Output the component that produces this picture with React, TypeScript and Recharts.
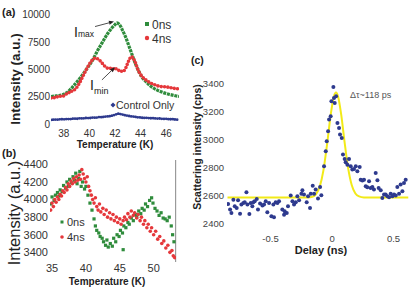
import React from 'react';
import {
  ComposedChart,
  ScatterChart,
  Scatter,
  Line,
  XAxis,
  YAxis,
  ReferenceLine,
} from 'recharts';

const FONT = '"Liberation Sans", Arial, sans-serif';
const GREEN = '#2f8c3c';
const RED = '#e5383b';
const NAVY = '#2e3a8e';
const YELLOW = '#f2ea18';

// (a) temperature scan, 0 ns delay
const aTemp0 = [37.0, 37.3, 37.6, 37.9, 38.2, 38.5, 38.8, 39.1, 39.4, 39.7, 40.0, 40.3, 40.6, 40.9, 41.2, 41.5, 41.8, 42.0, 42.15, 42.35, 42.6, 42.85, 43.1, 43.35, 43.6, 43.85, 44.1, 44.4, 44.7, 45.0, 45.3, 45.6, 45.9, 46.2, 46.5, 46.8, 47.0];
const aInt0 = [2520, 2560, 2600, 2680, 2850, 3150, 3550, 3950, 4400, 4900, 5400, 5950, 6650, 7250, 7850, 8400, 8850, 9100, 9250, 9100, 8550, 7900, 7100, 6300, 5500, 4850, 4300, 3900, 3550, 3300, 3100, 2950, 2830, 2730, 2650, 2570, 2520];

// (a) 4 ns delay
const aTemp4 = [37.0, 37.15, 37.3, 37.45, 37.6, 37.75, 37.9, 38.05, 38.2, 38.35, 38.5, 38.65, 38.8, 38.95, 39.1, 39.25, 39.4, 39.55, 39.7, 39.85, 40.0, 40.15, 40.3, 40.45, 40.6, 40.75, 40.9, 41.05, 41.2, 41.35, 41.5, 41.65, 41.8, 41.95, 42.1, 42.25, 42.4, 42.55, 42.7, 42.85, 43.0, 43.15, 43.3, 43.45, 43.6, 43.75, 43.9, 44.05, 44.2, 44.35, 44.5, 44.65, 44.8, 44.95, 45.1, 45.25, 45.4, 45.55, 45.7, 45.85, 46.0, 46.15, 46.3, 46.45, 46.6, 46.75, 46.9, 47.0];
const aInt4 = [2380, 2450, 2400, 2500, 2460, 2560, 2520, 2620, 2750, 2900, 2850, 3050, 3100, 3250, 3500, 3800, 4150, 4500, 4850, 5200, 5500, 5750, 5950, 6050, 6000, 5900, 5700, 5500, 5300, 5150, 5050, 5100, 5000, 5150, 5050, 4900, 4950, 4780, 4850, 5150, 5600, 6000, 6200, 6000, 5600, 5100, 4700, 4450, 4250, 4100, 3950, 3850, 3750, 3650, 3600, 3520, 3480, 3450, 3400, 3420, 3350, 3380, 3300, 3340, 3260, 3300, 3220, 3200];

// (a) control only
const aTempCtl = [37.0, 37.25, 37.5, 37.75, 38.0, 38.25, 38.5, 38.75, 39.0, 39.25, 39.5, 39.75, 40.0, 40.25, 40.5, 40.75, 41.0, 41.25, 41.5, 41.75, 42.0, 42.25, 42.5, 42.75, 43.0, 43.25, 43.5, 43.75, 44.0, 44.25, 44.5, 44.75, 45.0, 45.25, 45.5, 45.75, 46.0, 46.25, 46.5, 46.75, 47.0];
const aIntCtl = [380, 420, 400, 450, 430, 470, 450, 500, 480, 530, 510, 560, 540, 600, 580, 640, 630, 690, 700, 760, 850, 950, 900, 820, 760, 700, 680, 620, 600, 560, 570, 530, 540, 500, 510, 470, 480, 440, 450, 410, 400];

const aXTicks = [38, 40, 42, 44, 46];
const aYTicks = [0, 2500, 5000, 7500, 10000];

// (b) wider temperature scan
const bTemp0 = [34.8, 35.0, 35.3, 35.5, 35.8, 36.0, 36.2, 36.5, 36.7, 37.0, 37.2, 37.4, 37.6, 37.9, 38.1, 38.3, 38.5, 38.7, 38.9, 39.1, 39.3, 39.5, 39.8, 40.0, 40.3, 40.6, 40.9, 41.2, 41.4, 41.6, 41.9, 42.1, 42.4, 42.6, 42.9, 43.1, 43.3, 43.6, 43.9, 44.1, 44.4, 44.6, 44.9, 45.1, 45.4, 45.5, 45.6, 45.9, 46.2, 46.4, 46.7, 47.0, 47.3, 47.5, 47.8, 48.1, 48.3, 48.6, 48.8, 49.1, 49.4, 49.7, 49.9, 50.2, 50.5, 50.8, 51.1, 51.4, 51.7, 52.0, 52.3, 52.6, 52.8, 53.0];
const bInt0 = [3950, 4030, 3990, 4050, 4080, 4040, 4110, 4090, 4160, 4130, 4200, 4150, 4230, 4190, 4260, 4220, 4300, 4180, 4240, 4320, 4150, 4200, 4120, 4150, 4050, 3960, 3880, 3780, 3700, 3650, 3620, 3580, 3560, 3520, 3480, 3540, 3460, 3500, 3470, 3560, 3520, 3600, 3580, 3650, 3620, 3430, 3700, 3680, 3740, 3720, 3790, 3760, 3830, 3800, 3870, 3840, 3900, 3880, 3950, 3920, 3990, 4020, 3960, 3900, 3870, 3820, 3850, 3790, 3780, 3760, 3800, 3700, 3600, 3520];
const bTemp4 = [34.8, 35.0, 35.2, 35.4, 35.6, 35.8, 36.0, 36.2, 36.4, 36.6, 36.8, 37.0, 37.2, 37.4, 37.6, 37.8, 38.0, 38.2, 38.4, 38.6, 38.8, 39.0, 39.2, 39.4, 39.6, 39.8, 40.0, 40.2, 40.4, 40.6, 40.8, 41.0, 41.2, 41.4, 41.6, 41.8, 42.0, 42.2, 42.5, 42.7, 43.0, 43.2, 43.5, 43.7, 44.0, 44.2, 44.5, 44.7, 45.0, 45.2, 45.5, 45.7, 46.0, 46.2, 46.5, 46.7, 47.0, 47.2, 47.5, 47.7, 48.0, 48.2, 48.5, 48.7, 49.0, 49.2, 49.5, 49.7, 50.0, 50.3, 50.6, 50.9, 51.2, 51.5, 51.8, 52.1, 52.4, 52.7, 52.9, 53.1];
const bInt4 = [3880, 3960, 3920, 4000, 3970, 4030, 4000, 4060, 4040, 4100, 4080, 4140, 4110, 4180, 4150, 4210, 4180, 4240, 4200, 4260, 4220, 4280, 4230, 4340, 4290, 4240, 4200, 4260, 4150, 4100, 4050, 4000, 3960, 4020, 3920, 3880, 3950, 3860, 3900, 3830, 3880, 3800, 3850, 3780, 3830, 3760, 3800, 3740, 3780, 3720, 3760, 3800, 3770, 3840, 3800, 3870, 3820, 3850, 3790, 3830, 3760, 3800, 3720, 3760, 3680, 3720, 3640, 3680, 3600, 3640, 3550, 3580, 3500, 3530, 3450, 3480, 3400, 3420, 3360, 3340];

const bXTicks = [35, 40, 45, 50];
const bYTicks = [3400, 3600, 3800, 4000, 4200, 4400];

// (c) delay scan and Gaussian fit
const cDelay = [-0.845, -0.829, -0.818, -0.802, -0.791, -0.775, -0.764, -0.748, -0.737, -0.721, -0.71, -0.696, -0.688, -0.672, -0.661, -0.648, -0.64, -0.629, -0.612, -0.602, -0.585, -0.566, -0.553, -0.539, -0.526, -0.512, -0.493, -0.477, -0.472, -0.458, -0.444, -0.431, -0.404, -0.39, -0.385, -0.368, -0.358, -0.336, -0.322, -0.309, -0.295, -0.282, -0.268, -0.249, -0.241, -0.228, -0.206, -0.195, -0.179, -0.173, -0.157, -0.146, -0.133, -0.114, -0.097, -0.087, -0.065, -0.051, -0.043, -0.032, -0.024, -0.011, -0.005, 0.011, 0.016, 0.022, 0.033, 0.044, 0.057, 0.065, 0.079, 0.089, 0.103, 0.111, 0.125, 0.138, 0.152, 0.165, 0.179, 0.193, 0.206, 0.225, 0.233, 0.247, 0.26, 0.274, 0.287, 0.301, 0.314, 0.328, 0.341, 0.355, 0.369, 0.379, 0.396, 0.409, 0.423, 0.436, 0.45, 0.464, 0.477, 0.491, 0.504, 0.518, 0.531, 0.545, 0.558, 0.572, 0.585, 0.599];
const cCounts = [2540, 2500, 2476, 2571, 2524, 2512, 2567, 2471, 2536, 2548, 2552, 2624, 2536, 2469, 2548, 2524, 2552, 2560, 2576, 2500, 2543, 2529, 2536, 2560, 2481, 2548, 2452, 2536, 2445, 2552, 2548, 2560, 2500, 2464, 2488, 2476, 2524, 2600, 2560, 2536, 2552, 2595, 2567, 2614, 2638, 2607, 2552, 2595, 2512, 2614, 2671, 2614, 2643, 2579, 2662, 2602, 2810, 2917, 2988, 3060, 3143, 3167, 3274, 3376, 3298, 3262, 3310, 3119, 3083, 3036, 3012, 2893, 2862, 2838, 2821, 2862, 2810, 2786, 2790, 2810, 2774, 2805, 2714, 2707, 2714, 2667, 2660, 2702, 2655, 2662, 2643, 2762, 2710, 2655, 2638, 2583, 2607, 2607, 2595, 2588, 2614, 2595, 2607, 2600, 2662, 2614, 2679, 2631, 2690, 2714];
const fitDelay = [-0.85, -0.25, -0.2, -0.16, -0.13, -0.1, -0.07, -0.04, -0.01, 0.015, 0.032, 0.05, 0.075, 0.1, 0.13, 0.16, 0.19, 0.22, 0.26, 0.35, 0.62];
const fitCounts = [2586, 2586, 2587, 2592, 2611, 2664, 2780, 2968, 3182, 3308, 3336, 3305, 3176, 2997, 2801, 2675, 2615, 2594, 2587, 2586, 2586];

const cXTicks = [-0.5, 0, 0.5];
const cYTicks = [2400, 2600, 2800, 3000, 3200, 3400];

const zipT = (t: number[], v: number[]) => t.map((x, i) => ({ t: x, v: v[i] }));
const zipD = (d: number[], v: number[]) => d.map((x, i) => ({ d: x, v: v[i] }));

const Arrow = (p: any) => {
  const { x1, y1, x2, y2 } = p;
  const a = Math.atan2(y2 - y1, x2 - x1);
  const bx = x2 - 5 * Math.cos(a);
  const by = y2 - 5 * Math.sin(a);
  const s = Math.sin(a) * 2;
  const c = Math.cos(a) * 2;
  return (
    <g>
      <line x1={x1} y1={y1} x2={bx} y2={by} stroke='#222' strokeWidth={0.8} />
      <polygon points={`${x2},${y2} ${bx + s},${by - c} ${bx - s},${by + c}`} fill='#222' />
    </g>
  );
};

// small fixed-size markers
const greenSquare = (p: any) => <rect x={p.cx - 1.6} y={p.cy - 1.6} width={3.2} height={3.2} fill={GREEN} />;
const redDot = (p: any) => <circle cx={p.cx} cy={p.cy} r={1.8} fill={RED} />;
const navyDot = (p: any) => <circle cx={p.cx} cy={p.cy} r={2} fill={NAVY} />;

const tickA = { fontSize: 10, fill: '#333', fontFamily: FONT };
const tickB = { fontSize: 11, fill: '#333', fontFamily: FONT };
const tickC = { fontSize: 9.5, fill: '#444', fontFamily: FONT };

const PanelA = () => (
  <ComposedChart width={190} height={150} margin={{ top: 12, right: 11, bottom: 0, left: 0 }}>
    <XAxis type='number' dataKey='t' domain={[37, 47]} ticks={aXTicks} allowDataOverflow
      axisLine={false} tickLine={false} tickSize={0} tickMargin={0.5} height={21} tick={tickA} />
    <YAxis type='number' dataKey='v' domain={[-450, 10250]} ticks={aYTicks} allowDataOverflow
      axisLine={false} tickLine={false} tickSize={0} tickMargin={1} width={51} tick={tickA} />
    <Line data={zipT(aTempCtl, aIntCtl)} dataKey='v' type='linear' stroke={NAVY} strokeWidth={2.8}
      strokeDasharray='0 2.2' strokeLinecap='round' dot={false} isAnimationActive={false} />
    <Line data={zipT(aTemp0, aInt0)} dataKey='v' type='monotone' stroke={GREEN} strokeWidth={3.2}
      strokeDasharray='3 0.8' dot={false} isAnimationActive={false} />
    <Line data={zipT(aTemp4, aInt4)} dataKey='v' type='linear' stroke={RED} strokeWidth={3.6}
      strokeDasharray='0 3.4' strokeLinecap='round' dot={false} isAnimationActive={false} />
    <ReferenceLine segment={[{ x: 40.44, y: 8920 }, { x: 41.92, y: 9380 }]} shape={Arrow} />
    <ReferenceLine segment={[{ x: 40.98, y: 4040 }, { x: 42.0, y: 5200 }]} shape={Arrow} />
  </ComposedChart>
);

const PanelB = () => (
  <ScatterChart width={190} height={147} margin={{ top: 20, right: 14, bottom: 0, left: 0 }}>
    <XAxis type='number' dataKey='t' domain={[34.7, 53.3]} ticks={bXTicks} allowDataOverflow
      axisLine={false} tickLine={false} tickSize={0} tickMargin={2} height={25} tick={tickB} />
    <YAxis type='number' dataKey='v' domain={[3290, 4450]} ticks={bYTicks} allowDataOverflow
      axisLine={false} tickLine={false} tickSize={0} tickMargin={2} width={50} tick={tickB} />
    <ReferenceLine x={53.25} stroke='#888' strokeWidth={1} />
    <Scatter data={zipT(bTemp0, bInt0)} fill={GREEN} shape={greenSquare} isAnimationActive={false} />
    <Scatter data={zipT(bTemp4, bInt4)} fill={RED} shape={redDot} isAnimationActive={false} />
  </ScatterChart>
);

const PanelC = () => (
  <ComposedChart width={225} height={225} margin={{ top: 38, right: 5, bottom: 0, left: 0 }}>
    <XAxis type='number' dataKey='d' domain={[-0.854, 0.634]} ticks={cXTicks} allowDataOverflow
      axisLine={false} tickLine={false} tickSize={0} tickMargin={10.5} height={40} tick={tickC} />
    <YAxis type='number' dataKey='v' domain={[2390, 3440]} ticks={cYTicks} allowDataOverflow
      axisLine={false} tickLine={false} tickSize={0} tickMargin={3} width={37} tick={tickC} />
    <Scatter data={zipD(cDelay, cCounts)} dataKey='v' fill={NAVY} shape={navyDot} isAnimationActive={false} />
    <Line data={zipD(fitDelay, fitCounts)} dataKey='v' type='monotone' stroke={YELLOW} strokeWidth={2}
      dot={false} isAnimationActive={false} />
  </ComposedChart>
);

const Overlay = () => (
  <svg width={415} height={287} style={{ position: 'absolute', left: 0, top: 0, pointerEvents: 'none' }}
    fontFamily={FONT}>
    <text x={2} y={16} fontSize={11} fontWeight='bold' fill='#222'>(a)</text>
    <text x={2} y={157} fontSize={11} fontWeight='bold' fill='#222'>(b)</text>
    <text x={191} y={64} fontSize={10.5} fontWeight='bold' fill='#222'>(c)</text>

    <text transform='translate(15,79) rotate(-90)' textAnchor='middle' dy='0.36em' fontSize={13.5}
      fontWeight='bold' fill='#222'>Intensity (a.u.)</text>
    <text x={115} y={147.5} textAnchor='middle' fontSize={10} fontWeight='bold' fill='#222'>Temperature (K)</text>
    <text transform='translate(14,213) rotate(-90)' textAnchor='middle' dy='0.36em' fontSize={16.5}
      fill='#222'>Intensity (a.u.)</text>
    <text x={107} y={284.5} textAnchor='middle' fontSize={10} fontWeight='bold' fill='#222'>Temperature (K)</text>
    <text transform='translate(197,147) rotate(-90)' textAnchor='middle' dy='0.36em' fontSize={10.5}
      fontWeight='bold' fill='#222'>Scattering intensity (cps)</text>
    <text x={321} y={254} textAnchor='middle' fontSize={11} fontWeight='bold' fill='#222'>Delay (ns)</text>
    <text x={350} y={98} fontSize={9} fill='#555'>Δτ~118 ps</text>

    <text x={74} y={37} fontSize={14} fill='#222'>I<tspan fontSize={8.5}>max</tspan></text>
    <text x={90} y={90} fontSize={14} fill='#222'>I<tspan fontSize={9} dy={4}>min</tspan></text>

    <rect x={145} y={22} width={4} height={4} fill={GREEN} />
    <text x={152} y={28.5} fontSize={12} fill='#333'>0ns</text>
    <circle cx={147} cy={38} r={2.2} fill={RED} />
    <text x={152} y={42.5} fontSize={12} fill='#333'>4ns</text>
    <polygon points='113,102.5 115.5,105 113,107.5 110.5,105' fill={NAVY} />
    <text x={116} y={109} fontSize={10.5} fill='#333'>Control Only</text>

    <rect x={60.5} y={220.5} width={3} height={3} fill={GREEN} />
    <text x={67} y={226} fontSize={11} fill='#333'>0ns</text>
    <circle cx={62} cy={237} r={1.8} fill={RED} />
    <text x={67} y={241} fontSize={11} fill='#333'>4ns</text>
  </svg>
);

export default function App() {
  return (
    <div style={{ position: 'absolute', left: 0, top: 0, width: 415, height: 287, background: '#fff', overflow: 'hidden', fontFamily: FONT }}>
      <div style={{ position: 'absolute', left: 0, top: 0 }}><PanelA /></div>
      <div style={{ position: 'absolute', left: 0, top: 140 }}><PanelB /></div>
      <div style={{ position: 'absolute', left: 190, top: 40 }}><PanelC /></div>
      <Overlay />
    </div>
  );
}
